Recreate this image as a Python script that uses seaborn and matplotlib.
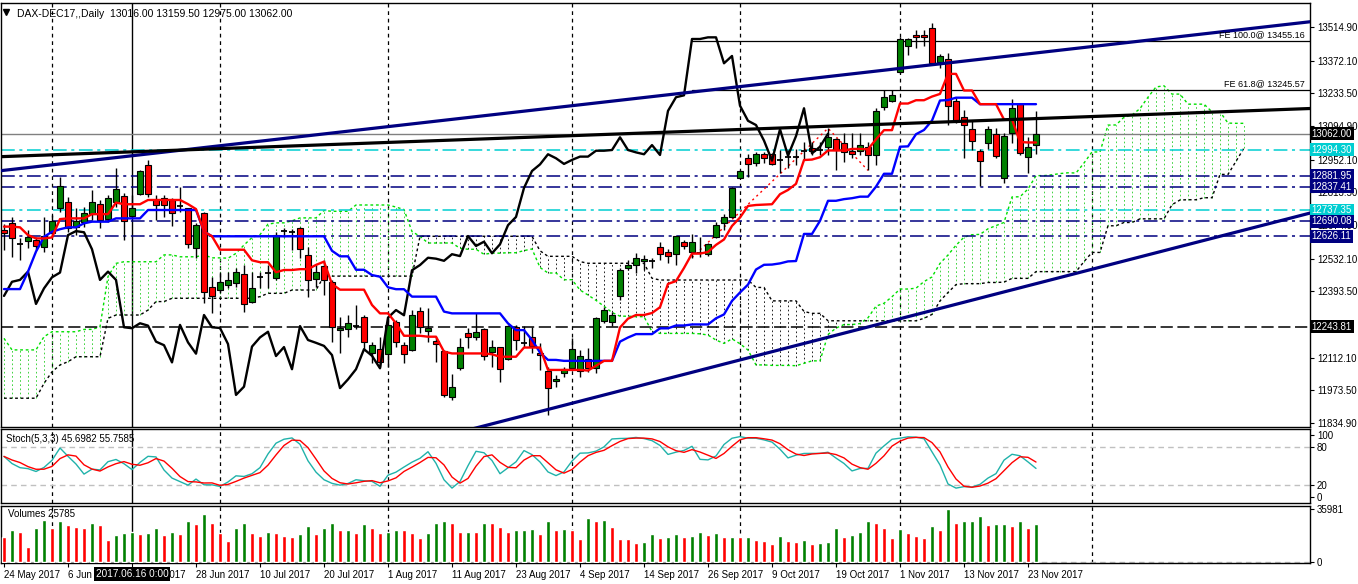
import numpy as np
import pandas as pd
import matplotlib
matplotlib.use("Agg")
import matplotlib.pyplot as plt
import matplotlib.transforms as mtransforms
import seaborn as sns

# ---------------- data ----------------
opens = [12654, 12682, 12594, 12608, 12611, 12580, 12642, 12746, 12774, 12668,
         12689, 12722, 12763, 12699, 12771, 12799, 12714, 12805, 12929, 12781,
         12788, 12781, 12756, 12746, 12576, 12725, 12411, 12399, 12420, 12428,
         12466, 12350, 12453, 12473, 12449, 12649, 12644, 12661, 12548, 12445,
         12502, 12434, 12229, 12232, 12248, 12286, 12133, 12148, 12126, 12262,
         12165, 12145, 12310, 12225, 12184, 12140, 11944, 12067, 12218, 12198,
         12232, 12135, 12157, 12105, 12243, 12175, 12201, 12133, 12054, 12013,
         12048, 12067, 12055, 12105, 12067, 12268, 12262, 12375, 12491, 12504,
         12523, 12523, 12580, 12562, 12551, 12602, 12559, 12555, 12551, 12623,
         12682, 12710, 12876, 12958, 12939, 12975, 12975, 12951, 12965, 12965,
         12990, 13003, 12993, 13005, 13038, 13024, 12990, 12989, 13006, 12972,
         13174, 13202, 13325, 13436, 13481, 13481, 13509, 13365, 13378, 13202,
         13134, 13081, 12988, 13024, 13060, 12873, 13064, 13187, 12962, 13016]
highs = [12679, 12709, 12620, 12654, 12625, 12710, 12717, 12880, 12795, 12746,
         12753, 12823, 12781, 12802, 12915, 12809, 12802, 12908, 12951, 12802,
         12802, 12788, 12837, 12747, 12682, 12731, 12456, 12477, 12477, 12491,
         12504, 12477, 12477, 12505, 12646, 12661, 12657, 12668, 12583, 12505,
         12526, 12442, 12286, 12293, 12336, 12293, 12180, 12201, 12286, 12272,
         12180, 12314, 12328, 12321, 12201, 12145, 12043, 12194, 12237, 12300,
         12237, 12187, 12159, 12251, 12251, 12246, 12243, 12173, 12074, 12039,
         12074, 12194, 12145, 12152, 12286, 12328, 12307, 12491, 12526, 12555,
         12548, 12535, 12604, 12572, 12628, 12611, 12637, 12625, 12597, 12689,
         12722, 12837, 12908, 12975, 12983, 12983, 12979, 12993, 12993, 12996,
         13028, 13026, 13028, 13085.16, 13043, 13064, 13064, 13064, 13028, 13170,
         13248, 13248, 13474, 13467, 13502, 13502, 13533, 13400, 13403, 13212,
         13163, 13120, 12996, 13095, 13085, 13064, 13208, 13191, 13049, 13159.5]
lows = [12569, 12539, 12526, 12577, 12569, 12562, 12625, 12731, 12646, 12632,
        12668, 12696, 12661, 12689, 12753, 12611, 12703, 12802, 12795, 12696,
        12710, 12671, 12731, 12576, 12534, 12343, 12303, 12385, 12406, 12413,
        12307, 12343, 12406, 12406, 12442, 12625, 12569, 12534, 12371, 12413,
        12378, 12180, 12133, 12201, 12232, 12145, 12088, 12074, 12074, 12159,
        12088, 12142, 12215, 12180, 12092, 11947, 11932, 12060, 12152, 12187,
        12102, 12074, 12010, 12102, 12145, 12159, 12131, 12060, 11869, 11989,
        12029, 12063, 12031, 12053, 12048, 12258, 12246, 12357, 12484, 12470,
        12484, 12492, 12526, 12512, 12505, 12572, 12536.49, 12540, 12543, 12618,
        12654, 12703, 12873, 12877, 12925, 12939, 12929, 12897, 12915, 12929,
        12951, 12972, 12972, 12972, 12910, 12943, 12958, 12972, 12906.49, 12929,
        13163, 13198, 13318, 13396, 13425, 13434, 13354, 13340, 13099, 13106,
        12958, 12993, 12842, 12996, 12958, 12852, 13022, 12972, 12897, 12975]
closes = [12641, 12618, 12594, 12624, 12586, 12630, 12692, 12840, 12661, 12692,
          12725, 12771, 12696, 12788, 12826, 12692, 12746, 12904, 12805, 12760,
          12760, 12725, 12756, 12594, 12675, 12392, 12374, 12434, 12442, 12477,
          12340, 12406, 12453, 12473, 12632, 12649, 12644, 12572, 12442, 12477,
          12442, 12241, 12237, 12258, 12248, 12180, 12165, 12092, 12251, 12177,
          12129, 12293, 12241, 12238, 12170, 11954, 11989, 12159, 12198, 12222,
          12119, 12157, 12063, 12246, 12187, 12175, 12162, 12123, 11983, 12020,
          12063, 12148, 12120, 12067, 12282, 12314, 12292, 12483, 12505, 12536,
          12532, 12523, 12551, 12543, 12628, 12586, 12604, 12555, 12593, 12674,
          12709, 12832, 12904, 12932, 12975, 12958, 12934, 12951, 12965, 12965,
          12990, 12990, 12993, 13047, 12993, 12983, 12975, 13014, 12972, 13159,
          13217, 13225, 13464, 13464, 13471, 13471, 13361, 13392, 13181, 13117,
          13099, 13033, 12948, 13081, 12969, 13052, 13170, 12979, 13007, 13062]
volumes = [17000, 21600, 20300, 10500, 22900, 28800, 22900, 28100, 24900, 23500,
           22900, 26200, 24900, 15000, 18300, 19600, 20300, 19000, 19600, 22900,
           18300, 20300, 19000, 27500, 25500, 32700, 26200, 19600, 14400, 22900,
           26800, 19600, 17700, 20300, 19600, 17700, 17000, 19000, 24200, 19000,
           22900, 26200, 21600, 21800, 19600, 25500, 22900, 19600, 20300, 21600,
           21400, 19600, 16400, 19600, 26800, 28100, 26800, 20300, 20500, 20300,
           26800, 26600, 23500, 20300, 21600, 21800, 22200, 19000, 28100, 21600,
           22200, 21600, 15700, 30100, 27500, 28800, 23500, 15700, 15500, 13100,
           13300, 19000, 16400, 17000, 19000, 17000, 17700, 20300, 18300, 19600,
           17000, 17200, 17000, 17200, 15000, 14400, 12400, 17700, 14400, 13700,
           15000, 12400, 13100, 13300, 22900, 17000, 18300, 20300, 28100, 26200,
           22900, 16400, 22200, 19600, 17700, 16400, 24200, 21600, 35981, 26200,
           27500, 28100, 31400, 24900, 25500, 25700, 24200, 27500, 22900, 25785]

date_labels = ["24 May 2017", "6 Jun 2017", "16 Jun 2017", "28 Jun 2017", "10 Jul 2017",
               "20 Jul 2017", "1 Aug 2017", "11 Aug 2017", "23 Aug 2017", "4 Sep 2017",
               "14 Sep 2017", "26 Sep 2017", "9 Oct 2017", "19 Oct 2017", "1 Nov 2017",
               "13 Nov 2017", "23 Nov 2017"]
date_label_bars = [0, 8, 16, 24, 32, 40, 48, 56, 64, 72, 80, 88, 96, 104, 112, 120, 128]
month_grid_bars = [6, 27, 48, 71, 92, 112, 136]
crosshair_bar = 16
crosshair_text = "2017.06.16 0:00"

# indicator values before a full look-back window exists
tenkan_lead = [12668, 12668, 12665, 12632, 12618, 12618, 12622, 12700]
kijun_lead = [12403, 12403, 12403, 12477, 12562, 12625, 12646, 12657, 12665, 12665,
              12682, 12689, 12689, 12689, 12703, 12703, 12703, 12703]
span_a_lead = [12194, 12145, 12145, 12145, 12145, 12201, 12222, 12222, 12222, 12222,
               12232, 12232, 12243, 12456, 12512, 12519, 12519, 12519, 12519, 12519,
               12548, 12548, 12540, 12540, 12540, 12548]
span_b_lead = [11940, 11940, 11940, 11940, 11940, 12003, 12052, 12081, 12095, 12116,
               12116, 12116, 12116, 12279, 12293, 12293, 12293, 12293, 12314, 12350,
               12350, 12364, 12364, 12364, 12364, 12364, 12364, 12364, 12364, 12364,
               12364, 12364, 12371, 12385, 12385, 12385, 12399, 12399, 12399, 12399,
               12458, 12458, 12458, 12458, 12458, 12458, 12458, 12458, 12458, 12458,
               12458, 12458]

price_ticks = [13514.90, 13372.10, 13233.50, 13094.90, 12952.10, 12813.50, 12674.90,
               12532.10, 12393.50, 12254.90, 12112.10, 11973.50, 11834.90]

# horizontal line objects
hline_levels = [12994.30, 12881.95, 12837.41, 12737.35, 12690.08, 12626.11, 12243.81]
hline_colors = ["#00CED1", "#000080", "#000080", "#00CED1", "#000080", "#000080", "#000000"]
hline_styles = ["dashdot", "dashdot", "dashdot", "dashdot", "dashdot", "dashdot", "dashed"]
bid_level = 13062.00

# trend lines (anchor bar, anchor price)
trend_upper = ([-1, 164], [12903, 13540])
trend_mid = ([-1, 164], [12964, 13170])
trend_low = ([58, 164], [11805, 12732])

# Fibonacci expansion anchors: A = low, B = high, C = low
fe_bars = [86, 103, 108]
fe_ratios = [0.618, 1.0]

title_text = "DAX-DEC17,,Daily  13016.00 13159.50 12975.00 13062.00"
stoch_text = "Stoch(5,3,3) 45.6982 55.7585"
vol_text = "Volumes 25785"

# ---------------- computations ----------------
df = pd.DataFrame({"open": opens, "high": highs, "low": lows, "close": closes, "vol": volumes})
n = len(df)
df["bar"] = np.arange(n)
hi, lo, cl, op = df["high"], df["low"], df["close"], df["open"]

tenkan = (hi.rolling(9).max() + lo.rolling(9).min()) / 2
tenkan.iloc[:len(tenkan_lead)] = tenkan_lead
kijun = (hi.rolling(26, min_periods=1).max() + lo.rolling(26, min_periods=1).min()) / 2
kijun.iloc[:len(kijun_lead)] = kijun_lead
spanb_raw = (hi.rolling(52, min_periods=1).max() + lo.rolling(52, min_periods=1).min()) / 2

shift = 26
npos = n + shift
span_a = np.empty(npos)
span_a[:shift] = span_a_lead
span_a[shift:] = ((tenkan + kijun) / 2).values
span_b = np.empty(npos)
span_b[shift:] = spanb_raw.values
span_b[:len(span_b_lead)] = span_b_lead
cloud = pd.DataFrame({"pos": np.arange(npos), "a": span_a, "b": span_b})

chikou = pd.DataFrame({"pos": np.arange(n - shift), "v": cl.values[shift:]})

hh5 = hi.rolling(5, min_periods=1).max()
ll5 = lo.rolling(5, min_periods=1).min()
k_line = 100 * (cl - ll5).rolling(3, min_periods=1).sum() / (hh5 - ll5).rolling(3, min_periods=1).sum()
d_line = k_line.rolling(3, min_periods=1).mean()

vol_prev = df["vol"].shift(1)
vol_colors = np.where(df["vol"] > vol_prev, "#008000", "#FF0000")

# ---------------- figure ----------------
sns.set_theme(style="ticks")
plt.rcParams["font.family"] = ["Liberation Sans", "DejaVu Sans"]

W, H = 1358, 584
fig = plt.figure(figsize=(W / 100, H / 100), dpi=100)
fig.patch.set_facecolor("white")
L = 1 / W
Wd = 1309 / W
ax = fig.add_axes([L, 1 - 427 / H, Wd, 424 / H])
ax_st = fig.add_axes([L, 1 - 503 / H, Wd, 74 / H])
ax_v = fig.add_axes([L, 1 - 563 / H, Wd, 57 / H])

xlim = (-0.375, 163.25)
for a in (ax, ax_st, ax_v):
    a.set_facecolor("white")
    a.set_xlim(*xlim)
    for s in a.spines.values():
        s.set_color("black")
        s.set_linewidth(1.0)
        s.set_visible(True)
    a.yaxis.tick_right()
    a.tick_params(axis="y", which="both", right=True, left=False, length=3, width=0.8,
                  pad=2, labelsize=7, colors="black", direction="out")
    a.tick_params(axis="x", bottom=False, labelbottom=False)
    for gb in month_grid_bars:
        a.axvline(gb, color="black", lw=0.9, ls=(0, (3, 3)), zorder=0.5)
    a.axvline(crosshair_bar, color="black", lw=1.0, zorder=0.6)

# price boxes on the right (drawn below) hide the tick label that falls fully under them
box_levels = [bid_level] + hline_levels
box_colors = ["#000000"] + hline_colors
price_tick_labels = []
for v in price_ticks:
    hidden = min(abs(v - b) for b in box_levels) < 15
    price_tick_labels.append("" if hidden else f"{v:.2f}")

ax.set_ylim(11817.9, 13616.7)
ax.set_yticks(price_ticks)
ax.set_yticklabels(price_tick_labels)

# --- Ichimoku cloud hatch ---
a_up = cloud["a"] >= cloud["b"]
ax.vlines(cloud["pos"][a_up], cloud["b"][a_up], cloud["a"][a_up], colors="#22CC22",
          linestyles=(0, (2, 3)), lw=0.6, zorder=1)
ax.vlines(cloud["pos"][~a_up], cloud["a"][~a_up], cloud["b"][~a_up], colors="#000000",
          linestyles=(0, (2, 3)), lw=0.6, zorder=1)
ax.plot(cloud["pos"], cloud["a"], color="#00E000", lw=1.0, ls=(0, (2, 2)), zorder=1.5)
ax.plot(cloud["pos"], cloud["b"], color="#000000", lw=1.0, ls=(0, (2, 2)), zorder=1.5)

# --- horizontal objects ---
for lvl, c, st in zip(hline_levels, hline_colors, hline_styles):
    ls = (0, (9, 3, 2, 3)) if st == "dashdot" else (0, (8, 3))
    ax.axhline(lvl, color=c, lw=1.1, ls=ls, zorder=2)
ax.axhline(bid_level, color="#808080", lw=1.0, zorder=2)

# --- Fibonacci expansion ---
fa = lows[fe_bars[0]]
fb = highs[fe_bars[1]]
fc = lows[fe_bars[2]]
ax.plot(fe_bars, [fa, fb, fc], color="red", lw=1.0, ls=(0, (1.5, 2.5)), zorder=2.5)
for r in fe_ratios:
    lvl = fc + r * (fb - fa)
    ax.plot([fe_bars[0], xlim[1]], [lvl, lvl], color="black", lw=0.9, zorder=2.5)
    lab = f"FE {r * 100:.1f}@ {lvl:.2f}"
    ax.text(xlim[1] - 0.6, lvl + 8, lab, ha="right", va="bottom", fontsize=6.5,
            color="black", zorder=9)

# --- candles ---
x = df["bar"].values
o = op.values
c_ = cl.values
up = c_ > o
dn = c_ < o
dj = c_ == o
ax.vlines(x, lo.values, hi.values, color="black", lw=1.0, zorder=3)
ax.bar(x[up], (c_ - o)[up], bottom=o[up], width=0.65, color="#008000",
       edgecolor="black", linewidth=0.8, zorder=4)
ax.bar(x[dn], (o - c_)[dn], bottom=c_[dn], width=0.65, color="#FF0000",
       edgecolor="black", linewidth=0.8, zorder=4)
ax.hlines(c_[dj], x[dj] - 0.38, x[dj] + 0.38, color="black", lw=1.3, zorder=4)

# --- Ichimoku lines ---
sns.lineplot(x=chikou["pos"], y=chikou["v"], ax=ax, color="black", lw=1.7, zorder=5)
sns.lineplot(x=df["bar"], y=kijun, ax=ax, color="#0000FF", lw=1.7, zorder=5)
sns.lineplot(x=df["bar"], y=tenkan, ax=ax, color="#FF0000", lw=1.7, zorder=5)

# --- trend lines ---
ax.plot(trend_upper[0], trend_upper[1], color="#000080", lw=2.3, zorder=6)
ax.plot(trend_mid[0], trend_mid[1], color="#000000", lw=2.3, zorder=6)
ax.plot(trend_low[0], trend_low[1], color="#000080", lw=2.3, zorder=6)

ax.set_xlim(*xlim)
ax.set_ylim(11817.9, 13616.7)
ax.set_xlabel("")
ax.set_ylabel("")

# --- right side price boxes ---
blend = mtransforms.blended_transform_factory(ax.transAxes, ax.transData)
for lvl, bc in zip(box_levels, box_colors):
    ax.text(1.0012, lvl, f"{lvl:.2f}", transform=blend, ha="left", va="center",
            fontsize=7, color="white", zorder=20, clip_on=False,
            bbox=dict(boxstyle="square,pad=0.18", fc=bc, ec="none"))

ax.text(0.0125, 0.985, title_text, transform=ax.transAxes, ha="left", va="top",
        fontsize=7.5, color="black", zorder=20)
ax.plot([0.004], [0.978], marker="v", ms=4, color="black", transform=ax.transAxes,
        zorder=20, clip_on=False)

# --- stochastic ---
ax_st.set_ylim(-9.7, 109.7)
ax_st.set_yticks([0, 20, 80, 100])
ax_st.set_yticklabels(["0", "20", "80", "100"])
for lv in (20, 80):
    ax_st.axhline(lv, color="#C0C0C0", lw=1.0, ls=(0, (4, 3)), zorder=1)
sns.lineplot(x=df["bar"], y=k_line, ax=ax_st, color="#20B2AA", lw=1.0, zorder=3)
sns.lineplot(x=df["bar"], y=d_line, ax=ax_st, color="#FF0000", lw=1.0, zorder=3)
ax_st.set_xlim(*xlim)
ax_st.set_xlabel("")
ax_st.set_ylabel("")
ax_st.text(0.004, 0.87, stoch_text, transform=ax_st.transAxes, ha="left", va="center",
           fontsize=7, color="black")

# --- volume ---
ax_v.set_ylim(-679, 38024)
ax_v.bar(df["bar"], df["vol"], width=0.6, color=vol_colors, zorder=3)
ax_v.axhline(0, color="#C0C0C0", lw=1.0, ls=(0, (4, 3)), zorder=2)
ax_v.set_yticks([0, 35981])
ax_v.set_yticklabels(["0", "35981"])
ax_v.set_xlim(*xlim)
ax_v.text(0.005, 0.86, vol_text, transform=ax_v.transAxes, ha="left", va="center",
          fontsize=7, color="black")
ax_v.set_xticks(date_label_bars)
ax_v.set_xticklabels(date_labels, ha="left")
ax_v.tick_params(axis="x", bottom=True, labelbottom=True, length=3, width=0.8,
                 pad=2, labelsize=7, colors="black", direction="out")
vblend = mtransforms.blended_transform_factory(ax_v.transData, ax_v.transAxes)
ax_v.text(crosshair_bar, -0.19, crosshair_text, transform=vblend, ha="center", va="center",
          fontsize=7.2, color="white", zorder=20, clip_on=False,
          bbox=dict(boxstyle="square,pad=0.2", fc="black", ec="none"))

fig.savefig("out.png", dpi=100, facecolor="white")
